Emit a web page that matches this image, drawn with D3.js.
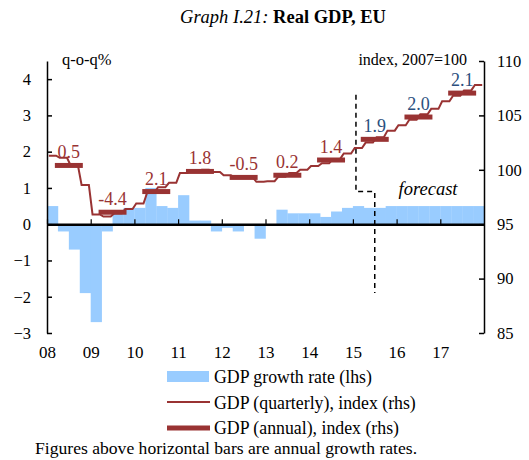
<!DOCTYPE html>
<html>
<head>
<meta charset="utf-8">
<script src="https://cdn.jsdelivr.net/npm/d3@7"></script>
<style>
  body { margin: 0; background: #fff; }
  text { font-family: "Liberation Serif", "Times New Roman", serif; }
</style>
</head>
<body>
<div id="chart"></div>
<script>
// quarterly growth rate, q-o-q %, 2008Q1..2017Q4 (lhs)
growth = [0.5, -0.2, -0.7, -1.9,
          -2.7, -0.2, 0.3, 0.45,
          0.45, 1.0, 0.5, 0.45,
          0.8, 0.1, 0.1, -0.2,
          -0.1, -0.2, 0.0, -0.4,
          0.0, 0.4, 0.3, 0.3,
          0.3, 0.2, 0.35, 0.45,
          0.5, 0.45, 0.45, 0.5,
          0.5, 0.5, 0.5, 0.5,
          0.5, 0.5, 0.5, 0.5]
// quarterly GDP index, 2007=100 (rhs)
quarterly = [101.3, 101.1, 100.4, 98.6,
             95.9, 95.7, 96.0, 96.4,
             96.9, 97.9, 98.4, 98.8,
             99.7, 99.9, 100.0, 99.8,
             99.5, 99.3, 99.3, 98.9,
             98.95, 99.35, 99.7, 100.0,
             100.35, 100.6, 101.0, 101.5,
             102.0, 102.5, 103.0, 103.6,
             104.1, 104.6, 105.1, 105.6,
             106.3, 106.8, 107.3, 107.8]
years = [2008, 2009, 2010, 2011, 2012, 2013, 2014, 2015, 2016, 2017]
annual = [100.4, 96.1, 98.0, 99.85, 99.3, 99.5, 100.9, 102.8, 104.85, 107.05]
annualLabels = ["0.5", "-4.4", "2.1", "1.8", "-0.5", "0.2", "1.4", "1.9", "2.0", "2.1"]
forecastFrom = 2015   // labels from this year on are forecasts
yearLabels = ["08", "09", "10", "11", "12", "13", "14", "15", "16", "17"]
leftTicks = [-3, -2, -1, 0, 1, 2, 3, 4]
rightTicks = [85, 90, 95, 100, 105, 110]
// dashed forecast divider, in (year, lhs value)
forecastLine = [[2015.07, 3.57], [2015.07, 0.9], [2015.5, 0.9], [2015.5, -1.9]]

red = "#993333"
blue = "#99ccff"
navy = "#2b4f7e"

W = 529, H = 460

svg = d3.select("#chart").append("svg")
  .attr("width", W)
  .attr("height", H)

x = d3.scaleLinear().domain([2008, 2018]).range([47, 484])
yL = d3.scaleLinear().domain([-3, 4.5]).range([333, 61])
yR = d3.scaleLinear().domain([85, 110]).range([333, 61])

// title
title = svg.append("text")
  .attr("x", 283).attr("y", 23)
  .attr("text-anchor", "middle")
  .style("font-size", "18.5px")
title.append("tspan").style("font-style", "italic").text("Graph I.21: ")
title.append("tspan").style("font-weight", "bold").text("Real GDP, EU")

// growth bars
qw = 0.25
svg.append("g").selectAll("rect")
  .data(growth)
  .join("rect")
    .attr("x", (d, i) => x(2008 + i * qw))
    .attr("width", x(2008 + qw) - x(2008) + 0.3)
    .attr("y", d => yL(Math.max(0, d)))
    .attr("height", d => Math.abs(yL(d) - yL(0)))
    .style("fill", blue)

// forecast divider
svg.append("path")
  .attr("d", d3.line().x(d => x(d[0])).y(d => yL(d[1]))(forecastLine))
  .style("fill", "none")
  .style("stroke", "#000")
  .style("stroke-width", 1.5)
  .style("stroke-dasharray", "5,4")

svg.append("text")
  .attr("x", x(2016.72)).attr("y", yL(0.8))
  .attr("text-anchor", "middle")
  .style("font-size", "18.5px")
  .style("font-style", "italic")
  .text("forecast")

// axes
leftAxis = svg.append("g")
  .attr("transform", `translate(${x(2008)}, 0)`)
  .call(d3.axisLeft(yL).tickValues(leftTicks).tickSizeInner(-5).tickSizeOuter(0).tickPadding(16))
leftAxis.selectAll("text").style("font-size", "16.5px").style("font-family", "Liberation Serif")
leftAxis.selectAll("line, path").style("stroke", "#000").style("stroke-width", 1.5)

rightAxis = svg.append("g")
  .attr("transform", `translate(${x(2018)}, 0)`)
  .call(d3.axisRight(yR).tickValues(rightTicks).tickSizeInner(-5).tickSizeOuter(0).tickPadding(13))
rightAxis.selectAll("text").style("font-size", "16.5px").style("font-family", "Liberation Serif")
rightAxis.selectAll("line, path").style("stroke", "#000").style("stroke-width", 1.5)

// zero line with year ticks
zeroAxis = svg.append("g")
  .attr("transform", `translate(0, ${yL(0)})`)
  .call(d3.axisTop(x).tickValues(years).tickSizeInner(5).tickSizeOuter(0).tickFormat(""))
zeroAxis.select(".domain").style("stroke", "#000").style("stroke-width", 2.5)
zeroAxis.selectAll("line").style("stroke", "#000").style("stroke-width", 1.2)

yearAxis = svg.append("g")
  .attr("transform", `translate(0, 346)`)
  .call(d3.axisBottom(x).tickValues(years).tickSize(0).tickPadding(0).tickFormat((d, i) => yearLabels[i]))
yearAxis.select(".domain").remove()
yearAxis.selectAll("text").style("font-size", "17px").style("font-family", "Liberation Serif")

svg.append("text")
  .attr("x", 62).attr("y", 65)
  .style("font-size", "16.5px")
  .text("q-o-q%")
svg.append("text")
  .attr("x", 467).attr("y", 65)
  .attr("text-anchor", "end")
  .style("font-size", "16px")
  .text("index, 2007=100")

// quarterly index line: flat over the quarter, stepping up into the next one
monthly = []
quarterly.forEach((v, i) => {
  for (m = 0; m < 3; m++) monthly.push([2008 + (3 * i + m + 0.5) / 12, v])
})
svg.append("path")
  .attr("d", d3.line().x(d => x(d[0])).y(d => yR(d[1]))(monthly))
  .style("fill", "none")
  .style("stroke", red)
  .style("stroke-width", 2)

// annual index bars
svg.append("g").selectAll("line")
  .data(annual)
  .join("line")
    .attr("x1", (d, i) => x(years[i] + 0.18))
    .attr("x2", (d, i) => x(years[i] + 0.82))
    .attr("y1", d => yR(d))
    .attr("y2", d => yR(d))
    .style("stroke", red)
    .style("stroke-width", 5)

svg.append("g").selectAll("text")
  .data(annual)
  .join("text")
    .attr("x", (d, i) => x(years[i] + 0.5))
    .attr("y", d => yR(d) - 7)
    .attr("text-anchor", "middle")
    .style("font-size", "18px")
    .style("fill", (d, i) => years[i] >= forecastFrom ? navy : red)
    .text((d, i) => annualLabels[i])

// legend
lg = svg.append("g")
lg.append("rect")
  .attr("x", 167).attr("y", 371).attr("width", 42).attr("height", 11)
  .style("fill", blue)
lg.append("line")
  .attr("x1", 167).attr("x2", 210).attr("y1", 402).attr("y2", 402)
  .style("stroke", red).style("stroke-width", 2)
lg.append("line")
  .attr("x1", 167).attr("x2", 210).attr("y1", 428).attr("y2", 428)
  .style("stroke", red).style("stroke-width", 5)
legendText = ["GDP growth rate (lhs)", "GDP (quarterly), index (rhs)", "GDP (annual), index (rhs)"]
lg.selectAll("text.lab")
  .data(legendText)
  .join("text")
    .attr("class", "lab")
    .attr("x", 214)
    .attr("y", (d, i) => 383 + i * 25.5)
    .style("font-size", "17.8px")
    .text(d => d)

svg.append("text")
  .attr("x", 35).attr("y", 454)
  .style("font-size", "17.6px")
  .text("Figures above horizontal bars are annual growth rates.")
</script>
</body>
</html>
